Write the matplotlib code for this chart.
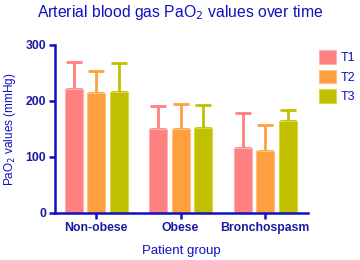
import matplotlib
matplotlib.use("Agg")
import matplotlib.pyplot as plt
import numpy as np

plt.rcParams['font.family'] = ['Liberation Sans', 'DejaVu Sans']

groups = ["Non-obese", "Obese", "Bronchospasm"]
series = ["T1", "T2", "T3"]
means = {
    "T1": [221, 150, 116],
    "T2": [214, 150, 110],
    "T3": [216, 151, 164],
}
sds = {
    "T1": [48, 41, 62],
    "T2": [39, 45, 47],
    "T3": [51, 41, 20],
}
colors = {"T1": "#FF8080", "T2": "#FFA040", "T3": "#C0C000"}
edge = {"T1": "#FFB0B0", "T2": "#FFC080", "T3": "#D8D840"}

axc = "#1010C0"
fig = plt.figure(figsize=(3.6, 2.6), dpi=100)
ax = fig.add_axes([0.153, 0.181, 0.703, 0.646])

x = np.arange(len(groups))
step = 0.266
w = 0.213
for i, s in enumerate(series):
    xs = x + (i - 1) * step
    ax.bar(xs, means[s], width=w, color=colors[s], edgecolor=edge[s], linewidth=0.8, label=s, zorder=2)
    ax.errorbar(xs, means[s], yerr=[np.zeros(len(groups)), sds[s]], fmt='none',
                ecolor=colors[s], elinewidth=2, capsize=5.5, capthick=2, zorder=1)

ax.set_xlim(-0.485, 2.51)
ax.set_ylim(0, 300)
ax.set_yticks([0, 100, 200, 300])
ax.set_xticks(x)
ax.set_xticklabels(groups)
for sp in ["top", "right"]:
    ax.spines[sp].set_visible(False)
for sp in ["left", "bottom"]:
    ax.spines[sp].set_color(axc)
    ax.spines[sp].set_linewidth(1.8)
ax.tick_params(axis='both', colors=axc, width=1.8, length=4, labelsize=8.8, pad=2.5)
for lab in ax.get_xticklabels() + ax.get_yticklabels():
    lab.set_fontweight('bold')
    lab.set_color("#1a1aa0")

ax.set_xlabel("Patient group", color=axc, fontsize=9.5, labelpad=8)
ax.set_ylabel("PaO$_2$ values (mmHg)", color=axc, fontsize=8.5, labelpad=5)
fig.suptitle("Arterial blood gas PaO$_2$ values over time", color=axc, fontsize=11.3, x=0.5, y=0.99)

leg = ax.legend(loc='upper left', bbox_to_anchor=(1.025, 1.0), frameon=False, fontsize=9,
                handlelength=1.3, handleheight=1.3, handletextpad=0.4, labelspacing=0.45, borderaxespad=0)
for t in leg.get_texts():
    t.set_color(axc)

fig.savefig("out.png", dpi=100)
